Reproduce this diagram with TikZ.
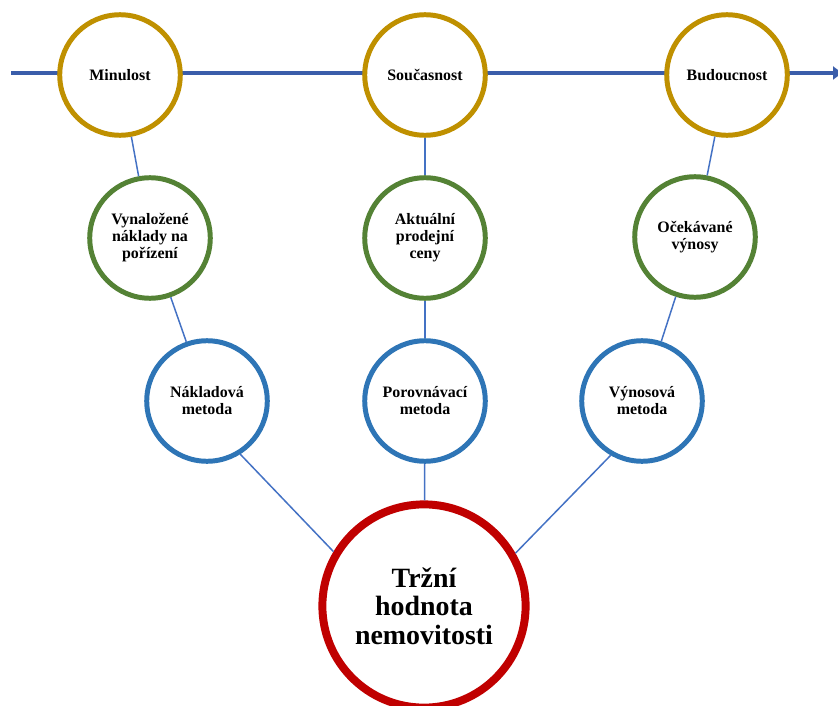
\documentclass[tikz,border=0pt]{standalone}
\usepackage{fontspec}
\setmainfont{Liberation Serif}
\usetikzlibrary{arrows.meta}
\definecolor{goldc}{HTML}{BF9000}
\definecolor{greenc}{HTML}{548235}
\definecolor{bluec}{HTML}{2E75B6}
\definecolor{redc}{HTML}{C00000}
\definecolor{linkc}{HTML}{4472C4}
\definecolor{timec}{HTML}{3A5DAA}
\tikzset{
  circ/.style={circle, draw, fill=white, line width=5pt, minimum size=121pt, inner sep=0pt, align=center,
    font=\bfseries\fontsize{16}{17}\selectfont},
  past/.style={circ, draw=goldc},
  mid/.style={circ, draw=greenc},
  meth/.style={circ, draw=bluec},
  result/.style={circle, draw=redc, fill=white, line width=8pt, minimum size=204pt, inner sep=0pt, align=center,
    font=\bfseries\fontsize{28}{28.5}\selectfont},
  link/.style={draw=linkc, line width=1.5pt},
  timeline/.style={draw=timec, line width=5pt, -{Triangle[length=9pt,width=13pt]}}
}
\begin{document}
\begin{tikzpicture}[x=1bp,y=-1bp]
\useasboundingbox (0,0) rectangle (838,706);
\coordinate (tl) at (11,73);
\coordinate (tr) at (842,73);
\draw[timeline] (tl) -- (tr);
\node[past] (p1) at (120,75) {Minulost};
\node[past] (p2) at (425,75) {Současnost};
\node[past] (p3) at (727,75) {Budoucnost};
\node[mid] (g1) at (150,238) {Vynaložené\\náklady na\\pořízení};
\node[mid] (g2) at (425,238) {Aktuální\\prodejní\\ceny};
\node[mid] (g3) at (695,237) {Očekávané\\výnosy};
\node[meth] (b1) at (207,401) {Nákladová\\metoda};
\node[meth] (b2) at (425,401) {Porovnávací\\metoda};
\node[meth] (b3) at (642,401) {Výnosová\\metoda};
\node[result] (r) at (424,606) {Tržní\\hodnota\\nemovitosti};
\draw[link] (p1) -- (g1);
\draw[link] (p2) -- (g2);
\draw[link] (p3) -- (g3);
\draw[link] (g1) -- (b1);
\draw[link] (g2) -- (b2);
\draw[link] (g3) -- (b3);
\draw[link] (b1.-58) -- (r.149);
\draw[link] (b2) -- (r);
\draw[link] (b3.240) -- (r.30);
\end{tikzpicture}
\end{document}
